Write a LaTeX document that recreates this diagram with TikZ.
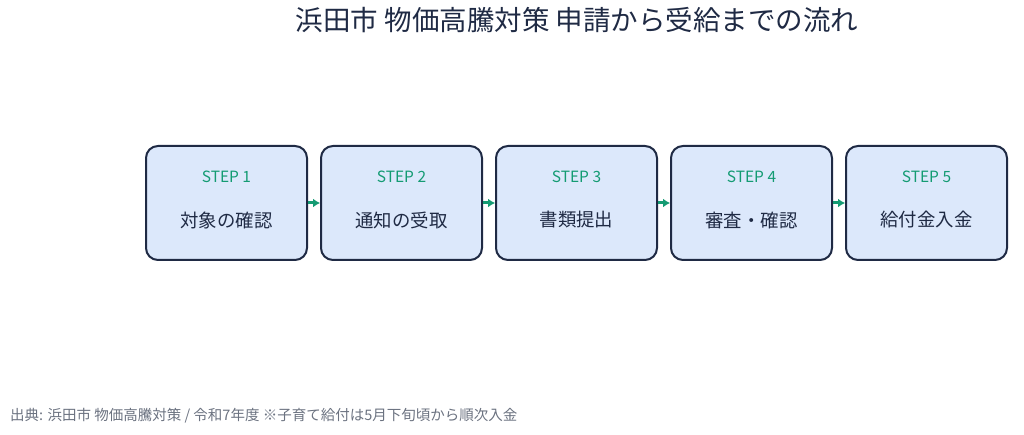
\documentclass[tikz,border=0pt]{standalone}
\usepackage{fontspec}
\setmainfont{Noto Sans CJK JP}
\usetikzlibrary{positioning}
\definecolor{boxfill}{HTML}{DCE8FB}
\definecolor{boxline}{HTML}{1F2A44}
\definecolor{stepgreen}{HTML}{149B73}
\definecolor{titlecol}{HTML}{1F2A44}
\definecolor{notecol}{HTML}{6B7280}
\tikzset{
  stepbox/.style={draw=boxline, line width=2pt, fill=boxfill, rounded corners=12pt,
    minimum width=161pt, minimum height=114pt, inner sep=0pt},
  steplabel/.style={text=stepgreen, font=\fontsize{15.5}{18}\selectfont, inner sep=0pt},
  stepname/.style={text=boxline, font=\fontsize{18.4}{22}\selectfont, inner sep=0pt},
  flow/.style={draw=stepgreen, line width=3pt, -{Latex[length=7pt,width=9pt]}}
}
\usetikzlibrary{arrows.meta}
\begin{document}
\begin{tikzpicture}[x=1pt,y=-1pt]
    \useasboundingbox (0,0) rectangle (1024,435);
    % title
    \node (title) [text=titlecol, font=\fontsize{27.5}{32}\selectfont, inner sep=0pt] at (577,20) {浜田市 物価高騰対策 申請から受給までの流れ};
    % steps
    \foreach \i/\name in {1/対象の確認, 2/通知の受取, 3/書類提出, 4/審査・確認, 5/給付金入金} {
        \node (s\i) [stepbox] at ({226.5+175*(\i-1)},203) {};
        \node (l\i) [steplabel] at ({226.5+175*(\i-1)},177) {STEP \i};
        \node (n\i) [stepname] at ({226.5+175*(\i-1)},220) {\name};
    }
    % connectors
    \foreach \i/\j in {1/2, 2/3, 3/4, 4/5}
        \draw [flow] (s\i.east) -- (s\j.west);
    % footer
    \node (note) [anchor=west, text=notecol, font=\fontsize{14.5}{17}\selectfont, inner sep=0pt] at (10,416) {出典: 浜田市 物価高騰対策 / 令和7年度 ※子育て給付は5月下旬頃から順次入金};
\end{tikzpicture}
\end{document}
